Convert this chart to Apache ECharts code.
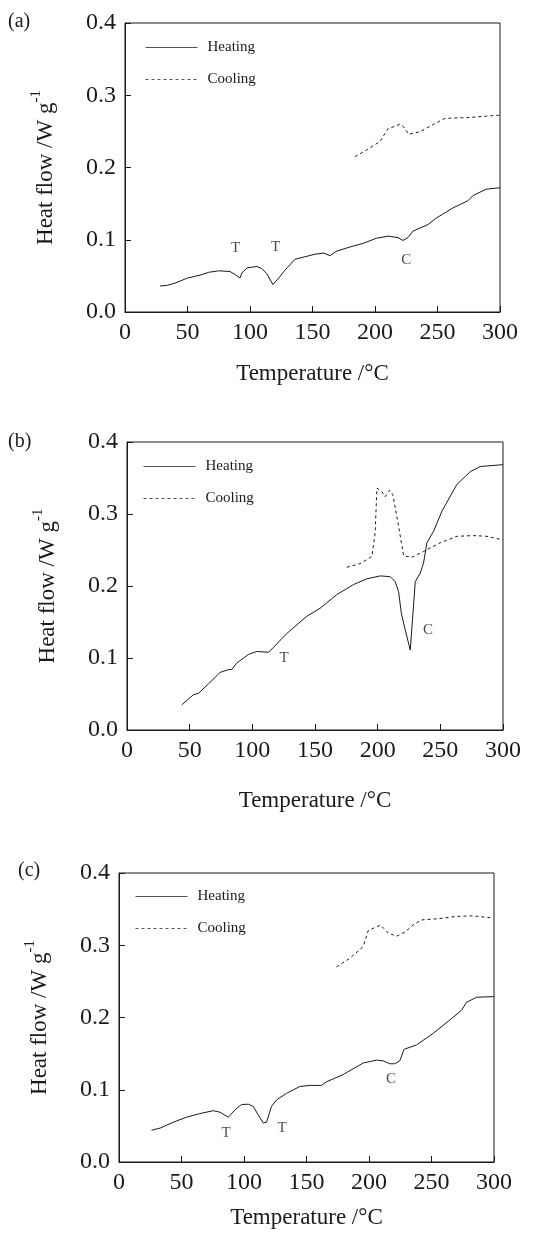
<!DOCTYPE html>
<html>
<head>
	<meta charset="utf-8" />
	<title>Heat flow</title>
	<script src="https://cdn.jsdelivr.net/npm/echarts@6/dist/echarts.min.js"></script>
	<style>
		html, body { margin: 0; padding: 0; background: #fff; }
		#container { width: 536px; height: 1238px; }
	</style>
</head>
<body>
<div id="container"></div>
<script>
	// panel labels and legend names
	var panels = ['(a)', '(b)', '(c)'];
	var legendNames = ['Heating', 'Cooling'];

	// (a) [temperature °C, heat flow W/g]
	var heatA = [[28,0.036],[34,0.037],[40,0.040],[50,0.047],[60,0.051],[67,0.055],[75,0.057],[84,0.056],
		[88,0.052],[92,0.047],[93.5,0.054],[97.5,0.061],[105.5,0.063],[109.5,0.060],[113.5,0.053],[118.3,0.038],
		[123,0.047],[128,0.058],[136,0.073],[143,0.076],[152,0.080],[159,0.0815],[164,0.078],[169,0.084],
		[180,0.090],[190.5,0.095],[201,0.102],[210.5,0.105],[218.4,0.103],[222.4,0.099],[226.4,0.103],
		[230.4,0.112],[242.4,0.121],[249,0.130],[262.3,0.144],[274.3,0.154],[278.2,0.161],[289,0.170],[300,0.172]];
	var coolA = [[184,0.215],[193,0.224],[204,0.236],[210.5,0.254],[216,0.257],[220,0.260],[223,0.256],
		[227,0.246],[236,0.2495],[246,0.259],[256,0.268],[273,0.269],[289,0.271],[300,0.2725]];

	// (b)
	var heatB = [[43.7,0.035],[49,0.043],[53,0.049],[57,0.051],[65,0.064],[74.3,0.080],[81,0.084],[83.6,0.084],
		[87.6,0.093],[97,0.105],[103.5,0.109],[113,0.108],[117,0.115],[127.5,0.134],[143.5,0.158],[154,0.169],
		[167.4,0.188],[180.7,0.202],[191.4,0.210],[202,0.214],[210,0.213],[214,0.206],[216.7,0.192],[218.9,0.162],
		[222,0.139],[226,0.111],[227.3,0.112],[230,0.206],[234,0.218],[236.6,0.232],[239.3,0.260],[244.6,0.276],
		[251.3,0.304],[263.2,0.341],[274,0.359],[282,0.366],[300,0.3685]];
	var coolB = [[175.4,0.226],[186,0.231],[195.4,0.241],[198,0.274],[199.4,0.336],[203.4,0.331],[206,0.324],
		[209.5,0.333],[212.1,0.327],[216.7,0.283],[220.7,0.242],[227.3,0.240],[236.6,0.248],[250,0.260],
		[263.2,0.269],[276.5,0.270],[287.2,0.269],[300,0.264]];

	// (c)
	var heatC = [[26,0.044],[33,0.047],[43.4,0.055],[54,0.062],[64.7,0.067],[75.4,0.071],[80.7,0.069],[87.4,0.062],
		[92.7,0.072],[98,0.0796],[103.4,0.080],[107.4,0.077],[111.4,0.065],[115.4,0.054],[118,0.055],[122,0.077],
		[126,0.086],[134,0.095],[144.7,0.1045],[152.7,0.106],[162,0.106],[166,0.111],[179.3,0.121],[195.3,0.137],
		[206,0.141],[211.3,0.140],[216.6,0.136],[220.6,0.136],[224.6,0.140],[228.1,0.156],[238,0.162],[251.3,0.178],
		[264.6,0.1965],[274,0.210],[278,0.221],[286,0.228],[300,0.229]];
	var coolC = [[174,0.270],[184.6,0.282],[195.3,0.298],[199.3,0.320],[204.6,0.3245],[209.2,0.328],[215.3,0.317],
		[222,0.3125],[228.6,0.318],[235.3,0.328],[242,0.335],[256.6,0.337],[270,0.340],[283.3,0.3406],[298,0.338]];

	// transition marks: [temperature, heat flow, text]
	var marksA = [[88.4,0.089,'T'],[120.4,0.090,'T'],[225,0.072,'C']];
	var marksB = [[125.3,0.100,'T'],[240.2,0.139,'C']];
	var marksC = [[85.6,0.040,'T'],[130.4,0.047,'T'],[217.6,0.115,'C']];

	var heats = [heatA, heatB, heatC];
	var cools = [coolA, coolB, coolC];
	var marks = [marksA, marksB, marksC];

	var font = '"Liberation Serif", "DejaVu Serif", serif';
	var ink = '#1a1a1a';

	var grids = [
		{left: 125, top: 23, width: 375, height: 289},
		{left: 127, top: 442, width: 376, height: 288},
		{left: 119, top: 873, width: 375, height: 289}
	];
	var xNameGaps = [50, 59, 44];
	var panelLabelPos = [[8, 12], [8, 432], [18, 861]];
	var legendPos = [[140, 35], [138, 454], [130, 884]];

	var chart = echarts.init(document.getElementById('container'));

	var option = {
		backgroundColor: '#fff',
		animation: false,
		grid: [],
		xAxis: [],
		yAxis: [],
		legend: [],
		series: [],
		graphic: []
	};

	for (var i = 0; i < 3; i++) {
		option.grid.push({
			left: grids[i].left, top: grids[i].top, width: grids[i].width, height: grids[i].height,
			show: true, borderColor: ink, borderWidth: 1
		});
		option.xAxis.push({
			type: 'value', gridIndex: i, min: 0, max: 300, interval: 50,
			name: 'Temperature /°C', nameLocation: 'middle', nameGap: xNameGaps[i],
			nameTextStyle: {fontFamily: font, fontSize: 23, color: ink},
			axisLine: {show: true, lineStyle: {color: ink, width: 1}},
			axisTick: {show: true, inside: true, length: 6, lineStyle: {color: ink}},
			axisLabel: {fontFamily: font, fontSize: 24, color: ink, margin: 9},
			splitLine: {show: false}
		});
		option.yAxis.push({
			type: 'value', gridIndex: i, min: 0, max: 0.4, interval: 0.1,
			name: 'Heat flow /W g{s|-1}', nameLocation: 'middle', nameGap: 62, nameRotate: 90,
			nameTextStyle: {fontFamily: font, fontSize: 23, color: ink, lineHeight: 34,
				rich: {s: {fontFamily: font, fontSize: 15, color: ink, lineHeight: 16, verticalAlign: 'top'}}},
			axisLine: {show: true, lineStyle: {color: ink, width: 1}},
			axisTick: {show: true, inside: true, length: 6, lineStyle: {color: ink}},
			axisLabel: {fontFamily: font, fontSize: 24, color: ink, margin: 9,
				formatter: function (v) { return v.toFixed(1); }},
			splitLine: {show: false}
		});
		option.legend.push({
			data: legendNames, orient: 'vertical',
			left: legendPos[i][0], top: legendPos[i][1],
			itemWidth: 52, itemHeight: 14, itemGap: 17,
			itemStyle: {opacity: 0},
			lineStyle: {width: 1, color: '#555'},
			textStyle: {fontFamily: font, fontSize: 15, color: ink, padding: [0, 0, 0, 5]},
			selectedMode: false
		});
		option.series.push({
			name: 'Heating', type: 'line', xAxisIndex: i, yAxisIndex: i,
			data: heats[i], symbol: 'none', smooth: false,
			lineStyle: {color: ink, width: 1}
		});
		option.series.push({
			name: 'Cooling', type: 'line', xAxisIndex: i, yAxisIndex: i,
			data: cools[i], symbol: 'none', smooth: false,
			lineStyle: {color: ink, width: 1, type: [3, 3]}
		});
		option.series.push({
			name: 'marks', type: 'scatter', xAxisIndex: i, yAxisIndex: i,
			data: marks[i], symbolSize: 1, itemStyle: {color: 'transparent'},
			label: {show: true, position: 'inside', fontFamily: font, fontSize: 15, color: ink,
				formatter: function (p) { return p.data[2]; }}
		});
		option.graphic.push({
			type: 'text', left: panelLabelPos[i][0], top: panelLabelPos[i][1],
			style: {text: panels[i], font: '20px ' + font, fill: ink}
		});
	}

	chart.setOption(option);
</script>
</body>
</html>
